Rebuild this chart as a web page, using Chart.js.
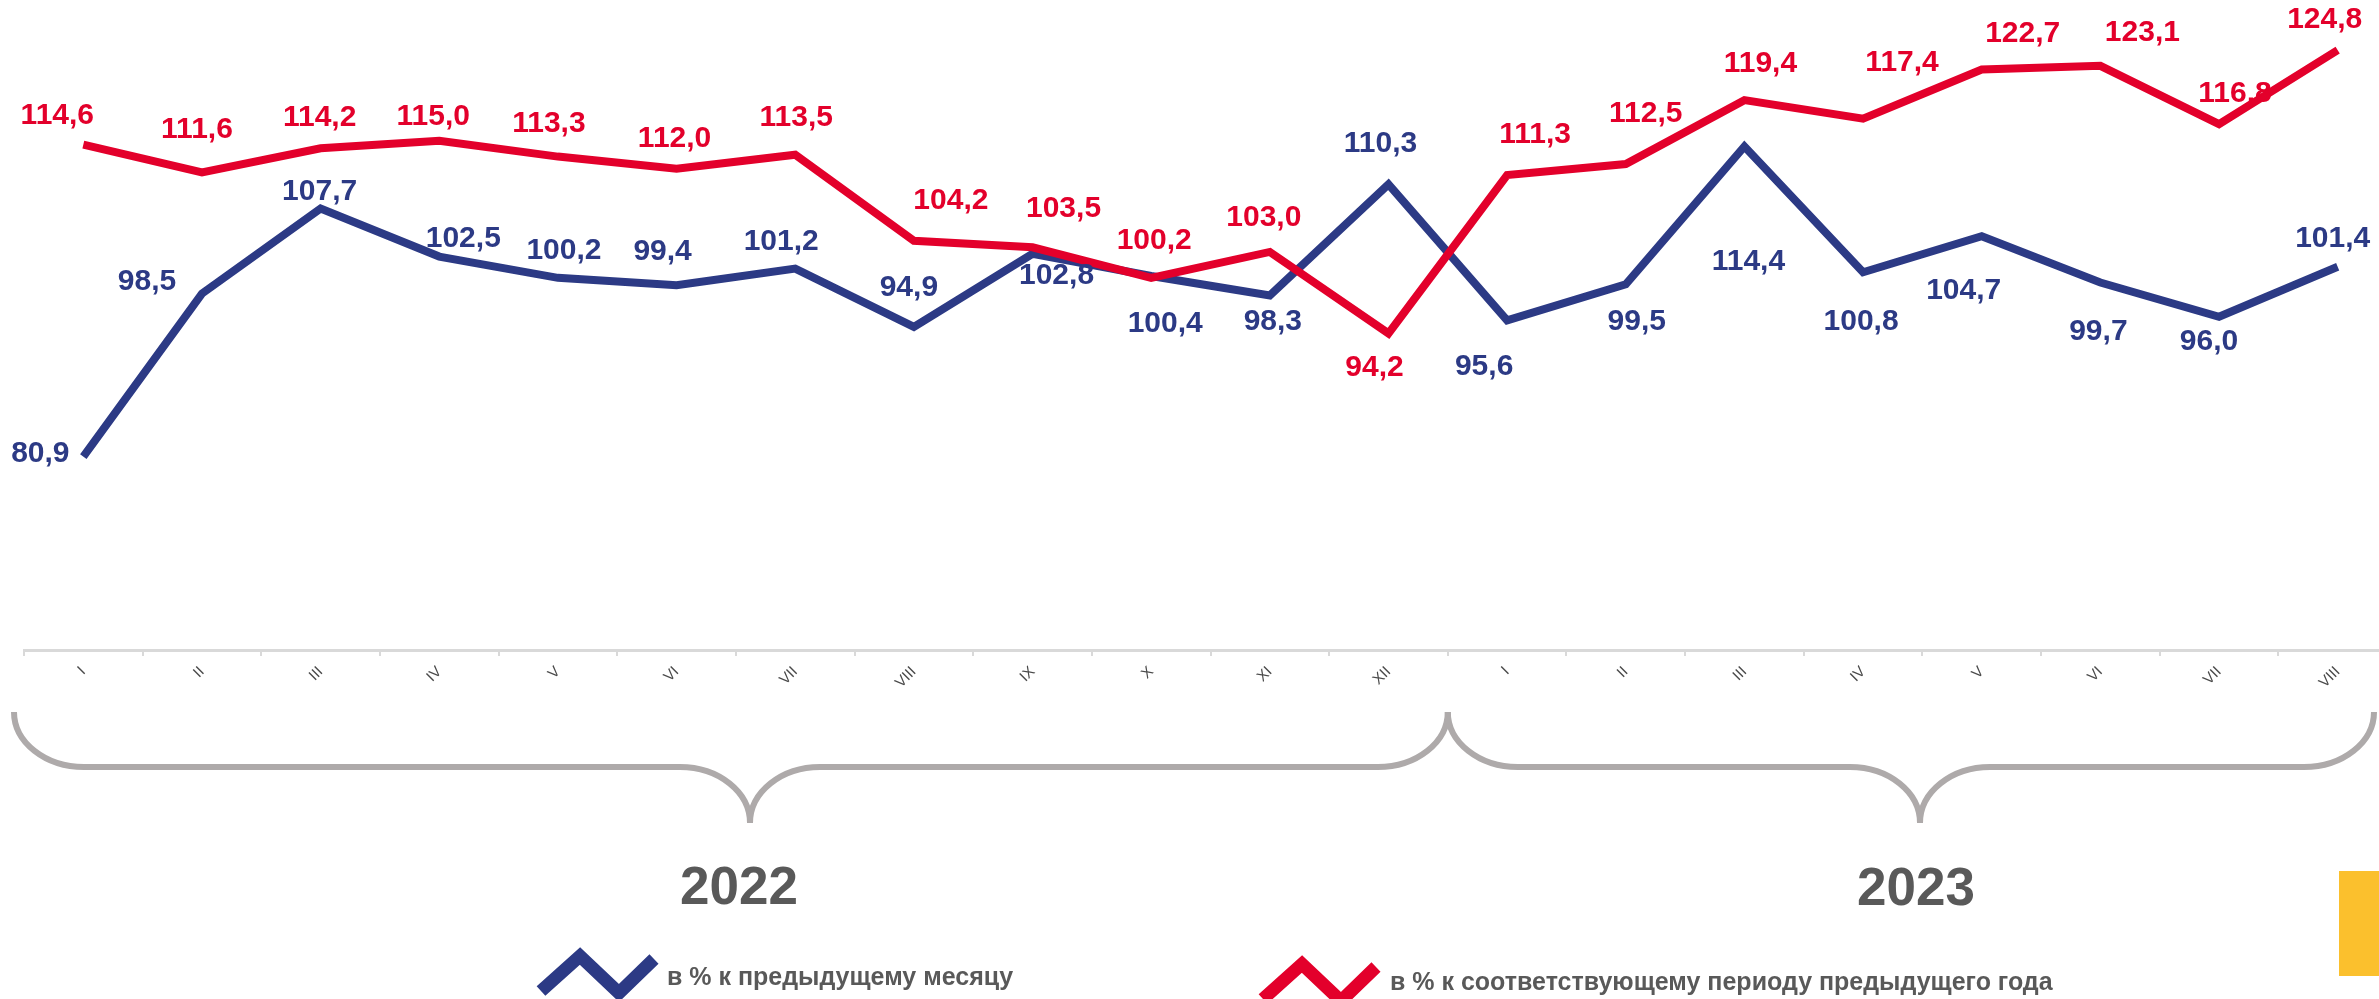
<!DOCTYPE html>
<html>
<head>
<meta charset="utf-8">
<script src="https://cdn.jsdelivr.net/npm/chart.js@4/dist/chart.umd.min.js"></script>
<style>
  html, body { margin: 0; padding: 0; background: #fff; overflow: hidden; }
  #wrap { position: absolute; left: 0; top: 0; width: 2397px; height: 999px; }
  #yellow { position: absolute; left: 2339px; top: 871px; width: 60px; height: 105px; background: #FBC02D; }
</style>
</head>
<body>
<div id="wrap"><canvas id="chart"></canvas></div>
<div id="yellow"></div>
<script>
/* ── Data ─────────────────────────────────────────────── */
const months      = ['I','II','III','IV','V','VI','VII','VIII','IX','X','XI','XII',
                     'I','II','III','IV','V','VI','VII','VIII'];
const years       = ['2022', '2023'];
const yearVsYear  = [114.6,111.6,114.2,115.0,113.3,112.0,113.5,104.2,103.5,100.2,103.0,94.2,
                     111.3,112.5,119.4,117.4,122.7,123.1,116.8,124.8];
const vsPrevMonth = [80.9,98.5,107.7,102.5,100.2,99.4,101.2,94.9,102.8,100.4,98.3,110.3,
                     95.6,99.5,114.4,100.8,104.7,99.7,96.0,101.4];
const seriesNames = ['в % к соответствующему периоду предыдущего года', 'в % к предыдущему месяцу'];

// ── label placement (offsets from point, px) ───────────
const redLabelOff = [[-26,-29],[-5,-43],[-1,-31],[-6,-24],[-9,-33],[-2,-30],[1,-37],[37,-40],
                     [31,-39],[3,-37],[-6,-34],[-14,34],[28,-40],[20,-50],[16,-36],[39,-56],
                     [41,-36],[42,-33],[16,-30],[-13,-30]];
const blueLabelOff = [[-43,-3],[-55,-12],[-1,-17],[24,-18],[6,-27],[-14,-34],[-14,-27],[-5,-39],
                      [24,22],[14,48],[3,26],[-8,-41],[-23,46],[11,37],[4,115],[-2,49],
                      [-18,55],[-2,49],[-10,25],[-5,-28]];

const RED  = '#E3002B';
const BLUE = '#2C3A85';
const GREY = '#595959';
const FONT = "'Liberation Sans', Arial, sans-serif";

// ── Value labels plugin ─────────────────────────────────
const valueLabels = {
    id: 'valueLabels',
    afterDatasetsDraw(chart) {
        const ctx = chart.ctx;
        const offs = [redLabelOff, blueLabelOff];
        ctx.save();
        ctx.font = `bold 30px ${FONT}`;
        ctx.textAlign = 'center';
        ctx.textBaseline = 'middle';
        chart.data.datasets.forEach((ds, di) => {
            ctx.fillStyle = ds.borderColor;
            chart.getDatasetMeta(di).data.forEach((pt, i) => {
                const [dx, dy] = offs[di][i];
                ctx.fillText(ds.data[i].toFixed(1).replace('.', ','), pt.x + dx, pt.y + dy);
            });
        });
        ctx.restore();
    }
};

// ── Braces, years, legend ───────────────────────────────
function brace(ctx, x0, x1, xm, yTop, yMid, yTip, r) {
    const ry = yMid - yTop, ry2 = yTip - yMid;
    ctx.beginPath();
    ctx.moveTo(x0, yTop);
    ctx.ellipse(x0 + r, yTop, r, ry, 0, Math.PI, Math.PI / 2, true);
    ctx.lineTo(xm - r, yMid);
    ctx.ellipse(xm - r, yTip, r, ry2, 0, -Math.PI / 2, 0, false);
    ctx.ellipse(xm + r, yTip, r, ry2, 0, Math.PI, 1.5 * Math.PI, false);
    ctx.lineTo(x1 - r, yMid);
    ctx.ellipse(x1 - r, yTop, r, ry, 0, Math.PI / 2, 0, true);
    ctx.stroke();
}

function zigzag(ctx, x, y, color) {
    ctx.beginPath();
    ctx.moveTo(x, y);
    ctx.lineTo(x + 39, y - 35);
    ctx.lineTo(x + 78, y + 2);
    ctx.lineTo(x + 113, y - 32);
    ctx.strokeStyle = color;
    ctx.lineWidth = 13;
    ctx.lineJoin = 'miter';
    ctx.stroke();
}

const extras = {
    id: 'extras',
    afterDraw(chart) {
        const ctx = chart.ctx;
        const xs = chart.scales.x;
        const edge = i => xs.getPixelForValue(i) - (xs.getPixelForValue(1) - xs.getPixelForValue(0)) / 2;
        ctx.save();
        ctx.strokeStyle = '#AEAAAA';
        ctx.lineWidth = 6;
        const j = edge(12);
        brace(ctx, edge(0) - 10, j, 750, 712, 767, 823, 70);
        brace(ctx, j, 2374, 1920, 712, 767, 823, 70);

        ctx.fillStyle = GREY;
        ctx.font = `bold 53px ${FONT}`;
        ctx.textAlign = 'center';
        ctx.textBaseline = 'middle';
        ctx.fillText(years[0], 739, 889);
        ctx.fillText(years[1], 1916, 890);

        zigzag(ctx, 541, 991, BLUE);
        zigzag(ctx, 1263, 999, RED);
        ctx.fillStyle = GREY;
        ctx.font = `bold 25px ${FONT}`;
        ctx.textAlign = 'left';
        ctx.textBaseline = 'alphabetic';
        ctx.fillText(seriesNames[1], 667, 985);
        ctx.fillText(seriesNames[0], 1390, 990);
        ctx.restore();
    }
};

new Chart(document.getElementById('chart'), {
    type: 'line',
    data: {
        labels: months,
        datasets: [
            { label: seriesNames[0], data: yearVsYear,  borderColor: RED,  borderWidth: 8,
              pointRadius: 0, tension: 0, fill: false },
            { label: seriesNames[1], data: vsPrevMonth, borderColor: BLUE, borderWidth: 8,
              pointRadius: 0, tension: 0, fill: false }
        ]
    },
    options: {
        responsive: true,
        maintainAspectRatio: false,
        animation: false,
        layout: { padding: { left: 24, right: 0, top: 2, bottom: 0 } },
        plugins: { legend: { display: false }, tooltip: { enabled: false } },
        scales: {
            x: {
                offset: true,
                grid: { offset: true, drawOnChartArea: false, color: '#D9D9D9', tickLength: 6, lineWidth: 2 },
                border: { color: '#D9D9D9', width: 3 },
                ticks: { autoSkip: false, minRotation: 45, maxRotation: 45, padding: 7,
                         color: '#4A4A4A', font: { family: FONT, size: 15 } },
                afterFit: s => { s.height = 349; }
            },
            y: { display: false, min: 60, max: 130 }
        }
    },
    plugins: [valueLabels, extras]
});
</script>
</body>
</html>
